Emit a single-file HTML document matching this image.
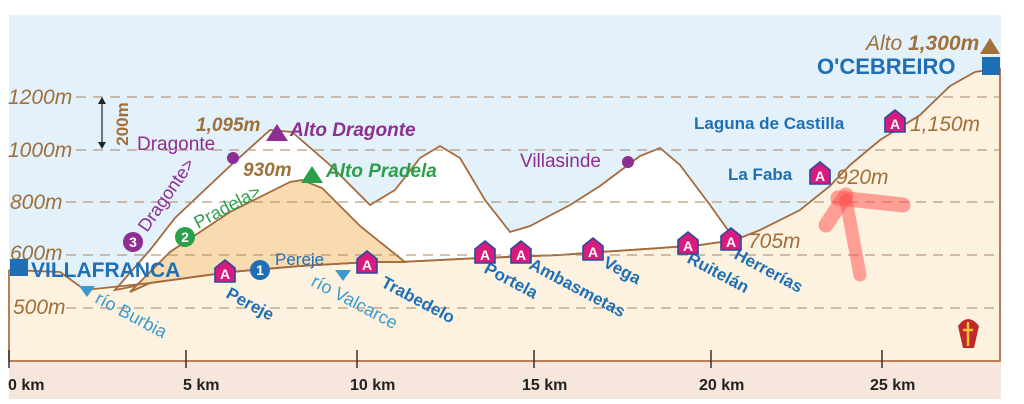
<!DOCTYPE html>
<html><head><meta charset="utf-8"><style>
html,body{margin:0;padding:0;background:#fff;}
svg{display:block;font-family:"Liberation Sans",sans-serif;}
.ax{fill:#a0703a;font-style:italic;font-size:21px;}
.bl{fill:#1f6fb5;font-weight:bold;font-size:17px;}
.rv{fill:#3a9ad0;font-size:18px;}
.km{fill:#222;font-size:16px;font-weight:bold;}
</style></head><body>
<svg width="1024" height="404" viewBox="0 0 1024 404">
<defs>
<g id="A"><path d="M-10,-4 L0,-12 L10,-4 L10,10 L-10,10Z" fill="#d81b7d" stroke="#2a4a9a" stroke-width="1.6"/><text x="0" y="7" text-anchor="middle" fill="#fff" font-weight="bold" font-size="14">A</text></g>
</defs>
<rect x="9" y="15" width="992" height="346" fill="#e2f1fa"/>
<rect x="9" y="361" width="992" height="38" fill="#f7e6dc"/>
<path d="M9,270 L60,272 L85,290 L150,283 L230,272 L300,266 L370,262 L400,262 L480,258 L560,255 L600,252 L660,248 L700,245 L735,240 L760,230 L800,210 L830,186 L850,165 L880,140 L920,115 L950,86 L975,72 L1000,68 L1000,361 L9,361Z" fill="#fdf2e0"/>
<path d="M115,290 L150,250 L175,218 L230,166 L270,130 L292,132 L330,165 L370,205 L395,190 L420,158 L440,146 L460,158 L485,200 L510,232 L530,226 L570,205 L600,186 L640,156 L660,148 L680,165 L710,205 L735,240 L700,245 L660,248 L600,252 L560,255 L480,258 L400,262 L370,262 L300,266 L230,272 L150,283Z" fill="#fff" stroke="#a56a3c" stroke-width="1.8"/>
<path d="M130,292 L170,252 L230,212 L290,182 L302,180 L322,188 L360,226 L405,262 L370,262 L300,266 L230,272 L150,283Z" fill="#f8dbb0" stroke="#a56a3c" stroke-width="1.8"/>
<path d="M9,270 L60,272 L85,290 L150,283 L230,272 L300,266 L370,262 L400,262 L480,258 L560,255 L600,252 L660,248 L700,245 L735,240 L760,230 L800,210 L830,186 L850,165 L880,140 L920,115 L950,86 L975,72 L1000,68" fill="none" stroke="#a56a3c" stroke-width="1.8"/>
<path d="M9,270 L9,361 L1000,361 L1000,68" fill="none" stroke="#b07040" stroke-width="1.8"/>
<g stroke="#b08a6a" stroke-width="1.3" stroke-dasharray="10,7" opacity="0.85">
<line x1="76" y1="97" x2="1000" y2="97"/><line x1="76" y1="150" x2="1000" y2="150"/>
<line x1="66" y1="202" x2="1000" y2="202"/><line x1="66" y1="255" x2="1000" y2="255"/>
<line x1="66" y1="308" x2="1000" y2="308"/></g>
<g class="ax"><text x="8" y="104">1200m</text><text x="8" y="157">1000m</text><text x="10" y="209">800m</text><text x="10" y="260">600m</text><text x="13" y="314">500m</text></g>
<line x1="102" y1="100" x2="102" y2="146" stroke="#222" stroke-width="1.2"/>
<path d="M98,104 L102,97 L106,104Z M98,142 L102,149 L106,142Z" fill="#222"/>
<text transform="translate(128,124) rotate(-90)" text-anchor="middle" fill="#a0703a" font-weight="bold" font-size="17">200m</text>
<g stroke="#333" stroke-width="1.5"><line x1="9" y1="350" x2="9" y2="368"/><line x1="186" y1="350" x2="186" y2="368"/><line x1="357" y1="350" x2="357" y2="368"/><line x1="534" y1="350" x2="534" y2="368"/><line x1="711" y1="350" x2="711" y2="368"/><line x1="882" y1="350" x2="882" y2="368"/></g>
<g class="km"><text x="8" y="390">0 km</text><text x="183" y="390">5 km</text><text x="350" y="390">10 km</text><text x="522" y="390">15 km</text><text x="699" y="390">20 km</text><text x="870" y="390">25 km</text></g>
<text x="137" y="150" fill="#8e2e92" font-size="19">Dragonte</text>
<circle cx="233" cy="158" r="6" fill="#8e2e92"/>
<text x="196" y="131" fill="#a0703a" font-weight="bold" font-style="italic" font-size="19">1,095m</text>
<path d="M266,141 L277,124 L288,141Z" fill="#8e2e92"/>
<text x="290" y="136" fill="#8e2e92" font-weight="bold" font-style="italic" font-size="19">Alto Dragonte</text>
<text x="243" y="176" fill="#a0703a" font-weight="bold" font-style="italic" font-size="19">930m</text>
<path d="M301,183 L312,166 L323,183Z" fill="#2aa04a"/>
<text x="326" y="177" fill="#2aa04a" font-weight="bold" font-style="italic" font-size="19">Alto Pradela</text>
<circle cx="133" cy="242" r="10" fill="#8e2e92"/><text x="133" y="247" text-anchor="middle" fill="#fff" font-weight="bold" font-size="14">3</text>
<text transform="translate(147,233) rotate(-55)" fill="#8e2e92" font-size="18">Dragonte&gt;</text>
<circle cx="185" cy="237" r="10" fill="#2aa04a"/><text x="185" y="242" text-anchor="middle" fill="#fff" font-weight="bold" font-size="14">2</text>
<text transform="translate(198,229) rotate(-28)" fill="#2aa04a" font-size="18">Pradela&gt;</text>
<rect x="10" y="259" width="18" height="17" fill="#1f6fb5"/>
<text x="31" y="277" fill="#1f6fb5" font-weight="bold" font-size="21">VILLAFRANCA</text>
<circle cx="260" cy="270" r="10" fill="#1f6fb5"/><text x="260" y="275" text-anchor="middle" fill="#fff" font-weight="bold" font-size="14">1</text>
<text x="275" y="265" fill="#1f6fb5" font-size="17">Pereje</text>
<path d="M79,286 L95,286 L87,297Z M335,270 L351,270 L343,281Z" fill="#3a9ad0"/>
<text class="rv" transform="translate(94,302) rotate(28)">río Burbia</text>
<text class="rv" transform="translate(310,285) rotate(28)">río Valcarce</text>
<g class="bl">
<text transform="translate(225,297) rotate(28)">Pereje</text>
<text transform="translate(380,286) rotate(28)">Trabedelo</text>
<text transform="translate(483,272) rotate(28)">Portela</text>
<text transform="translate(528,268) rotate(28)">Ambasmetas</text>
<text transform="translate(602,266) rotate(28)">Vega</text>
<text transform="translate(686,262) rotate(28)">Ruitelán</text>
<text transform="translate(733,258) rotate(28)">Herrerías</text>
</g>
<use href="#A" x="225" y="272"/><use href="#A" x="367" y="263"/><use href="#A" x="485" y="253"/><use href="#A" x="521" y="253"/><use href="#A" x="593" y="250"/><use href="#A" x="688" y="244"/><use href="#A" x="731" y="240"/><use href="#A" x="820" y="174"/><use href="#A" x="895" y="122"/>
<text x="748" y="248" class="ax" font-size="19">705m</text>
<text x="520" y="167" fill="#8e2e92" font-size="19">Villasinde</text>
<circle cx="628" cy="162" r="6" fill="#8e2e92"/>
<text x="728" y="180" class="bl">La Faba</text>
<text x="836" y="184" class="ax" font-size="19">920m</text>
<text x="694" y="129" class="bl">Laguna de Castilla</text>
<text x="910" y="131" class="ax" font-size="19">1,150m</text>
<text x="866" y="50" class="ax" font-size="19">Alto <tspan font-weight="bold">1,300m</tspan></text>
<path d="M980,54 L990,38 L1000,54Z" fill="#a0703a"/>
<rect x="982" y="57" width="18" height="18" fill="#1f6fb5"/>
<text x="817" y="74" fill="#1f6fb5" font-weight="bold" font-size="22">O'CEBREIRO</text>
<path d="M958,326 Q968,312 979,326 L974,348 L963,348Z" fill="#c0282a"/>
<path d="M968,322 L968,346 M963,330 L973,330" stroke="#f2c230" stroke-width="2.5"/>
<g stroke="#ff4a4a" stroke-opacity="0.5" stroke-linecap="round" fill="none">
<path d="M826,225 L846,195" stroke-width="15"/>
<path d="M838,198 L903,205" stroke-width="15"/>
<path d="M846,200 L860,275" stroke-width="13"/>
</g>
</svg>
</body></html>
